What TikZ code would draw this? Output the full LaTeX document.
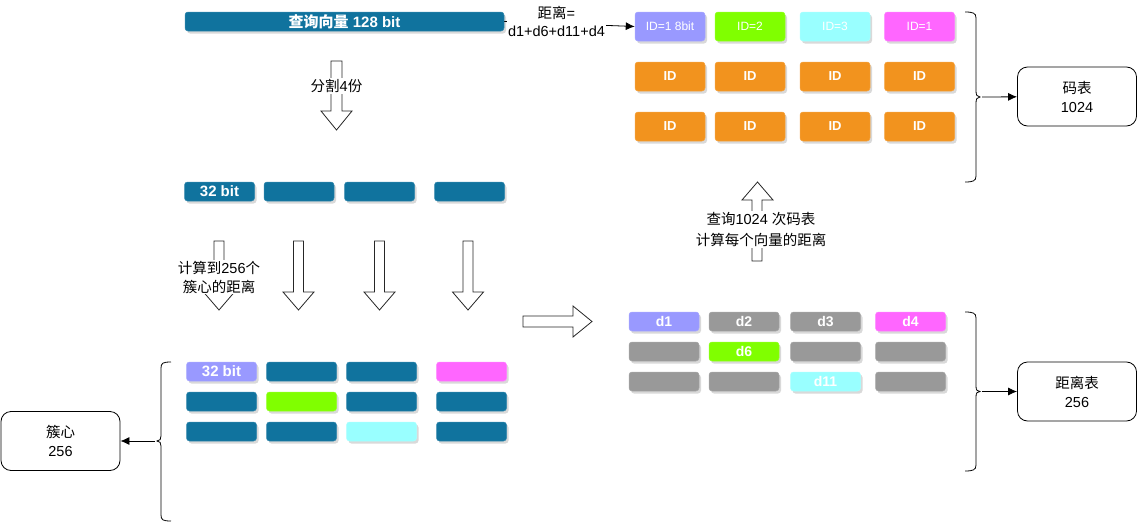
\documentclass[tikz,border=0pt]{standalone}
\usepackage{fontspec}
\setmainfont{Liberation Sans}
\newfontfamily\cjk{Noto Sans CJK SC}
\usetikzlibrary{shadows,arrows.meta}
\definecolor{cblue}{HTML}{10739E}
\definecolor{clav}{HTML}{9999FF}
\definecolor{cmag}{HTML}{FF66FF}
\definecolor{cgreen}{HTML}{80FF00}
\definecolor{ccyan}{HTML}{99FFFF}
\definecolor{cgray}{HTML}{999999}
\definecolor{corange}{HTML}{F2931E}
\newcommand{\dnarrow}[4]{%
  \draw[blockarrow] (#1-5,#2) -- (#1+5,#2) -- (#1+5,#3) -- (#1+15.5,#3) -- (#1,#4) -- (#1-15.5,#3) -- (#1-5,#3) -- cycle;}
\begin{document}
\begin{tikzpicture}[x=1pt,y=-1pt,
  every node/.style={font=\fontsize{14.5}{17}\selectfont},
  cell/.style={rounded corners=3pt, minimum width=70pt, minimum height=19pt, inner sep=0pt,
    text=white, fill=#1, draw=#1!85!white, line width=0.5pt,
    font=\bfseries\fontsize{14}{17}\selectfont,
    drop shadow={shadow xshift=2pt,shadow yshift=-2.5pt,opacity=0.3}},
  tall/.style={minimum height=29pt},
  infobox/.style={draw, rounded corners=10pt, minimum width=119pt, minimum height=59pt,
    align=center, line width=0.8pt, font=\fontsize{14.5}{19}\selectfont},
  blockarrow/.style={draw=black!85, fill=white, line width=0.8pt},
  brace/.style={draw=black, line width=0.8pt},
  conn/.style={draw=black, line width=0.8pt, -{Latex[length=9pt,width=8pt]}},
  lbl/.style={fill=white, align=center, inner sep=1pt}
]
\useasboundingbox (0,0) rectangle (1138,522);

% query bar
\node[cell=cblue, minimum width=319pt, font=\bfseries\fontsize{15}{17}\selectfont] (q) at (344.5,21.5) {{\cjk 查询向量} 128 bit};

% split arrow
\draw[blockarrow] (331,61) -- (342,61) -- (342,111) -- (352,111) -- (336.5,130) -- (321,111) -- (331,111) -- cycle;
\node[lbl] (split) at (336.5,86) {{\cjk 分割}4{\cjk 份}};

% 32-bit row
\node[cell=cblue, font=\bfseries\fontsize{15}{17}\selectfont] (s1) at (219.5,191.5) {32 bit};
\node[cell=cblue] (s2) at (299,191.5) {};
\node[cell=cblue] (s3) at (379.5,191.5) {};
\node[cell=cblue] (s4) at (469.5,191.5) {};

% down arrows
\dnarrow{219}{241}{292}{310}
\dnarrow{298.5}{241}{292}{310}
\dnarrow{379.5}{241}{292}{310}
\dnarrow{468}{241}{292}{310}
\node[lbl, font=\fontsize{14.5}{19}\selectfont] (calc) at (219,277) {{\cjk 计算到}256{\cjk 个}\\{\cjk 簇心的距离}};

% centroid grid
\node[cell=clav, font=\bfseries\fontsize{15}{17}\selectfont] (g11) at (221.5,371.5) {32 bit};
\node[cell=cblue] (g12) at (301.5,371.5) {};
\node[cell=cblue] (g13) at (381.5,371.5) {};
\node[cell=cmag] (g14) at (471.5,371.5) {};
\node[cell=cblue] (g21) at (221.5,401.5) {};
\node[cell=cgreen] (g22) at (301.5,401.5) {};
\node[cell=cblue] (g23) at (381.5,401.5) {};
\node[cell=cblue] (g24) at (471.5,401.5) {};
\node[cell=cblue] (g31) at (221.5,431.5) {};
\node[cell=cblue] (g32) at (301.5,431.5) {};
\node[cell=ccyan] (g33) at (381.5,431.5) {};
\node[cell=cblue] (g34) at (471.5,431.5) {};

% left brace
\draw[brace] (171,362) .. controls (163,362) and (161,363) .. (161,368) -- (161,436)
  .. controls (161,439) and (160,441) .. (157,441)
  .. controls (160,441) and (161,443) .. (161,446) -- (161,515)
  .. controls (161,520) and (163,521) .. (171,521);
\coordinate (lb) at (155,441);
\node[infobox] (cent) at (60.5,441) {{\cjk 簇心}\\256};
\draw[conn] (lb) -- (cent);

% big right arrow
\draw[blockarrow] (523,316) -- (573,316) -- (573,306) -- (592,321.5) -- (573,337) -- (573,327) -- (523,327) -- cycle;

% distance table
\node[cell=clav] (d11) at (664,321.5) {d1};
\node[cell=cgray] (d12) at (744,321.5) {d2};
\node[cell=cgray] (d13) at (825.5,321.5) {d3};
\node[cell=cmag] (d14) at (910.5,321.5) {d4};
\node[cell=cgray] (d21) at (664,351.5) {};
\node[cell=cgreen] (d22) at (744,351.5) {d6};
\node[cell=cgray] (d23) at (825.5,351.5) {};
\node[cell=cgray] (d24) at (910.5,351.5) {};
\node[cell=cgray] (d31) at (664,381.5) {};
\node[cell=cgray] (d32) at (744,381.5) {};
\node[cell=ccyan] (d33) at (825.5,381.5) {d11};
\node[cell=cgray] (d34) at (910.5,381.5) {};

% distance brace
\draw[brace] (965,312) .. controls (973,312) and (976,313) .. (976,318) -- (976,386)
  .. controls (976,390) and (977,391.5) .. (980,391.5)
  .. controls (977,391.5) and (976,393) .. (976,397) -- (976,465)
  .. controls (976,470) and (973,471) .. (965,471);
\coordinate (db) at (982,391.5);
\node[infobox] (dist) at (1077,391.5) {{\cjk 距离表}\\256};
\draw[conn] (db) -- (dist);

% up arrow
\draw[blockarrow] (752,261) -- (762,261) -- (762,200) -- (773,200) -- (757.5,182) -- (742,200) -- (752,200) -- cycle;
\node[lbl, font=\fontsize{14.5}{21}\selectfont] (query) at (761,229.5) {{\cjk 查询}1024 {\cjk 次码表}\\{\cjk 计算每个向量的距离}};

% code table
\node[cell=clav, tall, font=\fontsize{12}{14}\selectfont] (c11) at (670,26.5) {ID=1 8bit};
\node[cell=cgreen, tall, font=\fontsize{12}{14}\selectfont] (c12) at (750,26.5) {ID=2};
\node[cell=ccyan, tall, font=\fontsize{12}{14}\selectfont] (c13) at (835,26.5) {ID=3};
\node[cell=cmag, tall, font=\fontsize{12}{14}\selectfont] (c14) at (919.5,26.5) {ID=1};
\node[cell=corange, tall, font=\bfseries\fontsize{13}{15}\selectfont] (c21) at (670,76.5) {ID};
\node[cell=corange, tall, font=\bfseries\fontsize{13}{15}\selectfont] (c22) at (750,76.5) {ID};
\node[cell=corange, tall, font=\bfseries\fontsize{13}{15}\selectfont] (c23) at (835,76.5) {ID};
\node[cell=corange, tall, font=\bfseries\fontsize{13}{15}\selectfont] (c24) at (919.5,76.5) {ID};
\node[cell=corange, tall, font=\bfseries\fontsize{13}{15}\selectfont] (c31) at (670,126.5) {ID};
\node[cell=corange, tall, font=\bfseries\fontsize{13}{15}\selectfont] (c32) at (750,126.5) {ID};
\node[cell=corange, tall, font=\bfseries\fontsize{13}{15}\selectfont] (c33) at (835,126.5) {ID};
\node[cell=corange, tall, font=\bfseries\fontsize{13}{15}\selectfont] (c34) at (919.5,126.5) {ID};

% code brace
\draw[brace] (965,12) .. controls (973,12) and (976,13) .. (976,18) -- (976,91)
  .. controls (976,95) and (977,97) .. (980,97)
  .. controls (977,97) and (976,99) .. (976,103) -- (976,176)
  .. controls (976,181) and (973,182) .. (965,182);
\coordinate (cb) at (982,97);
\node[infobox] (code) at (1077,96.5) {{\cjk 码表}\\1024};
\draw[conn] (cb) -- (code);

% query -> code table arrow
\draw[conn] (q.east) -- node[lbl, pos=0.4, yshift=2.5pt, font=\fontsize{14.5}{18}\selectfont] (sum) {{\cjk 距离}=\\d1+d6+d11+d4} (c11.west);
\end{tikzpicture}
\end{document}
